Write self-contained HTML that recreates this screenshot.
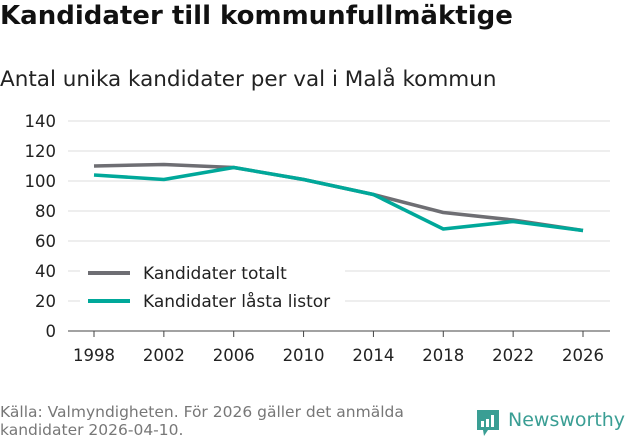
<!DOCTYPE html>
<html><head><meta charset="utf-8"><style>
body{margin:0;width:631px;height:439px;background:#fff;font-family:"DejaVu Sans","Liberation Sans",sans-serif;overflow:hidden;position:relative}
.t{position:absolute;white-space:nowrap}
</style></head><body>
<div class="t" style="left:0;top:1px;font-size:26px;font-weight:bold;color:#111">Kandidater till kommunfullmäktige</div>
<div class="t" style="left:0;top:67px;font-size:21.5px;color:#222">Antal unika kandidater per val i Malå kommun</div>
<svg id="c" width="631" height="439" style="position:absolute;left:0;top:0"></svg>
<div class="t" style="left:0;top:403px;font-size:15.5px;color:#777;line-height:18px">Källa: Valmyndigheten. För 2026 gäller det anmälda<br>kandidater 2026-04-10.</div>
<div style="position:absolute;left:476px;top:410px">
<svg width="24" height="28"><path d="M1 0h22v20H12l-4 6-1-6H1z" fill="#3a9e94"/><rect x="5" y="11" width="3" height="6" fill="#fff"/><rect x="10" y="9" width="3" height="8" fill="#fff"/><rect x="15" y="5" width="3" height="12" fill="#fff"/></svg>
<span class="t" style="left:32px;top:-1px;font-size:19px;color:#3a9e94">Newsworthy</span></div>
<script>
const years=["1998","2002","2006","2010","2014","2018","2022","2026"];
const totalt=[110,111,109,101,91,79,74,67];
const lasta=[104,101,109,101,91,68,73,67];
const yTicks=[0,20,40,60,80,100,120,140];
const svg=document.getElementById('c');const NS='http://www.w3.org/2000/svg';
const x=i=>94+i*(583-94)/(years.length-1);
const y=v=>331-v*1.5;
function el(t,a){const e=document.createElementNS(NS,t);for(const k in a)e.setAttribute(k,a[k]);svg.appendChild(e);return e;}
yTicks.forEach(v=>{
const g=el('line',{x1:68,x2:610,y1:y(v),y2:y(v),stroke:v?'#ddd':'#444','stroke-width':1});


const t=el('text',{x:56,y:y(v)+6,'text-anchor':'end','font-size':16.5,fill:'#222','font-family':'DejaVu Sans,sans-serif'});t.textContent=v;


});
years.forEach((yr,i)=>{
const tk=el('line',{x1:x(i),x2:x(i),y1:331,y2:337,stroke:'#444'});


const t=el('text',{x:x(i),y:361,'text-anchor':'middle','font-size':16.5,fill:'#222','font-family':'DejaVu Sans,sans-serif'});t.textContent=yr;


});
function line(d,c,n){const p=el('polyline',{points:d.map((v,i)=>x(i)+','+y(v)).join(' '),fill:'none',stroke:c,'stroke-width':3.5,'stroke-linejoin':'round'});

}
line(totalt,'#6e6e73','line-totalt');
line(lasta,'#00a89a','line-lasta-listor');
const lb=el('rect',{x:80,y:258,width:265,height:58,fill:'#fff'});


[['Kandidater totalt','#6e6e73',273],['Kandidater låsta listor','#00a89a',301]].forEach(([n,c,yy])=>{
const l=el('line',{x1:88,x2:130,y1:yy,y2:yy,stroke:c,'stroke-width':4});


const t=el('text',{x:143,y:yy+6,'font-size':17,fill:'#222','font-family':'DejaVu Sans,sans-serif'});t.textContent=n;


});
</script>
</body></html>
